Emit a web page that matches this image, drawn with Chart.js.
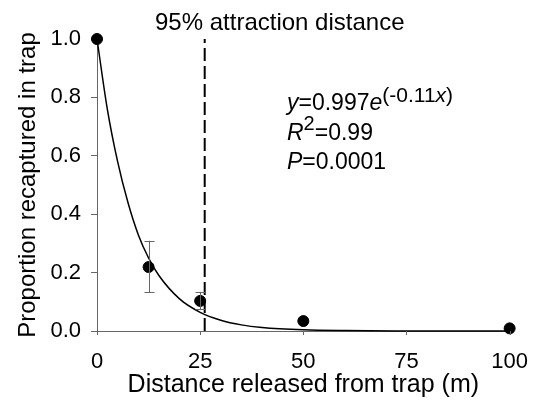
<!DOCTYPE html>
<html>
<head>
<meta charset="utf-8">
<script src="https://cdn.jsdelivr.net/npm/chart.js@4.4.0/dist/chart.umd.min.js"></script>
<style>
  body { margin: 0; background: #fff; }
  #wrap { width: 538px; height: 400px; }
</style>
</head>
<body>
<div id="wrap"><canvas id="chart"></canvas></div>
<script>
// observed recapture proportions
const distances = [0, 12.5, 25, 50, 100];
const proportions = [1.0, 0.219, 0.103, 0.034, 0.009];
const errLow = [null, 0.133, 0.074, null, null];
const errHigh = [null, 0.309, 0.134, null, null];

// fitted curve
const curveX = [0, 2.5, 5, 7.5, 10, 12.5, 15, 20, 25, 30, 35, 40, 50, 60, 75, 100];
const curveY = [1.0, 0.76, 0.58, 0.44, 0.33, 0.25, 0.19, 0.11, 0.064, 0.037, 0.021, 0.012, 0.004, 0.0013, 0.0003, 0.0];

const attractionDistance = 26.1;
const xTicks = [0, 25, 50, 75, 100];
const yTicks = [0, 0.2, 0.4, 0.6, 0.8, 1.0];

const FONT = 'Liberation Sans, Arial, sans-serif';

const errorBars = {
    id: 'errorBars',
    afterDatasetsDraw(chart) {
        const { ctx, scales: { x, y } } = chart;
        ctx.save();
        ctx.strokeStyle = '#666';
        ctx.lineWidth = 1;
        distances.forEach((d, i) => {
            if (errLow[i] === null) return;
            const px = Math.round(x.getPixelForValue(d)) + 0.5;
            const lo = y.getPixelForValue(errLow[i]);
            const hi = y.getPixelForValue(errHigh[i]);
            ctx.beginPath();
            ctx.moveTo(px, lo); ctx.lineTo(px, hi);
            ctx.moveTo(px - 5, Math.round(lo) + 0.5); ctx.lineTo(px + 5, Math.round(lo) + 0.5);
            ctx.moveTo(px - 5, Math.round(hi) + 0.5); ctx.lineTo(px + 5, Math.round(hi) + 0.5);
            ctx.stroke();
        });
        ctx.restore();
    }
};

const annotations = {
    id: 'annotations',
    afterDraw(chart) {
        const { ctx, scales: { x, y } } = chart;
        ctx.save();
        ctx.fillStyle = '#000';
        ctx.textBaseline = 'alphabetic';
        ctx.textAlign = 'left';
        ctx.font = '24px ' + FONT;
        ctx.fillText('95% attraction distance', 155, 30);

        // equation block
        const put = (txt, px, py, style, size) => {
            ctx.font = style + size + 'px ' + FONT;
            ctx.fillText(txt, px, py);
            return px + ctx.measureText(txt).width;
        };
        let cx = 287;
        cx = put('y', cx, 110, 'italic ', 23);
        cx = put('=0.997', cx, 110, '', 23);
        cx = put('e', cx, 110, 'italic ', 23);
        cx = put('(-0.11', cx, 102, '', 21);
        cx = put('x', cx, 102, 'italic ', 21);
        put(')', cx, 102, '', 21);

        cx = 287;
        cx = put('R', cx, 140, 'italic ', 23);
        cx = put('2', cx, 130, '', 20);
        put('=0.99', cx, 140, '', 23);

        cx = 287;
        cx = put('P', cx, 169, 'italic ', 23);
        put('=0.0001', cx, 169, '', 23);

        // outward tick marks on x axis
        ctx.strokeStyle = '#666';
        ctx.lineWidth = 1;
        xTicks.forEach(t => {
            const px = Math.round(x.getPixelForValue(t)) + 0.5;
            ctx.beginPath();
            ctx.moveTo(px, y.bottom);
            ctx.lineTo(px, y.bottom + 4);
            ctx.stroke();
        });
        ctx.restore();
    }
};

new Chart(document.getElementById('chart'), {
    type: 'scatter',
    data: {
        datasets: [
            {
                label: 'fit',
                type: 'line',
                data: curveX.map((v, i) => ({ x: v, y: curveY[i] })),
                borderColor: '#000',
                borderWidth: 1.5,
                pointRadius: 0,
                cubicInterpolationMode: 'monotone',
                fill: false
            },
            {
                label: 'attraction',
                type: 'line',
                data: [{ x: attractionDistance, y: 0 }, { x: attractionDistance, y: 1.0 }],
                borderColor: '#000',
                borderWidth: 2,
                borderDash: [13, 5],
                pointRadius: 0,
                fill: false
            },
            {
                label: 'observed',
                data: distances.map((v, i) => ({ x: v, y: proportions[i] })),
                backgroundColor: '#000',
                borderColor: '#000',
                pointRadius: 5.5,
                pointHoverRadius: 5.5
            }
        ]
    },
    options: {
        responsive: true,
        maintainAspectRatio: false,
        animation: false,
        clip: false,
        layout: { padding: { left: 14, top: 39, right: 26, bottom: 0 } },
        plugins: {
            legend: { display: false },
            tooltip: { enabled: false }
        },
        scales: {
            x: {
                type: 'linear',
                min: 0,
                max: 100,
                afterBuildTicks: s => { s.ticks = xTicks.map(v => ({ value: v })); },
                afterFit: s => { s.height = 69; },
                grid: { display: false },
                border: { display: true, color: '#666', width: 1 },
                ticks: {
                    color: '#000',
                    padding: 10,
                    font: { family: FONT, size: 22 }
                },
                title: {
                    display: true,
                    text: 'Distance released from trap (m)',
                    color: '#000',
                    font: { family: FONT, size: 25 },
                    padding: { top: 0, bottom: 0 }
                }
            },
            y: {
                min: 0,
                max: 1.0,
                afterBuildTicks: s => { s.ticks = yTicks.map(v => ({ value: v })); },
                afterFit: s => { s.width = 83; },
                grid: {
                    display: true,
                    drawOnChartArea: false,
                    drawTicks: true,
                    tickLength: 6,
                    color: '#666'
                },
                border: { display: true, color: '#666', width: 1 },
                ticks: {
                    color: '#000',
                    padding: 10,
                    font: { family: FONT, size: 22 },
                    callback: v => v.toFixed(1)
                },
                title: {
                    display: true,
                    text: 'Proportion recaptured in trap',
                    color: '#000',
                    font: { family: FONT, size: 24 },
                    padding: { top: 0, bottom: 0 }
                }
            }
        }
    },
    plugins: [errorBars, annotations]
});
</script>
</body>
</html>
